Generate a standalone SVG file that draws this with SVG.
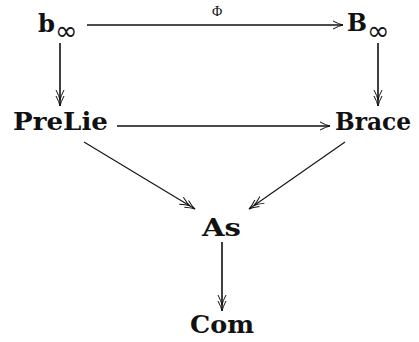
<svg xmlns="http://www.w3.org/2000/svg" width="419" height="342" viewBox="0 0 419 342">
<style>
.lbl{font-family:"DejaVu Serif","Liberation Serif",serif;font-weight:bold;font-size:24px;fill:#111}
.sub{font-family:"DejaVu Sans","Liberation Serif",serif;font-size:27px;fill:#111}
.phi{font-family:"Liberation Serif","DejaVu Serif",serif;font-size:14px;fill:#111}
.c{fill:none;stroke:#111;stroke-width:1.6}
.d{fill:none;stroke:#111;stroke-width:1.1}
.h{fill:none;stroke:#111;stroke-width:1}
</style>
<defs>
<marker id="one" markerUnits="userSpaceOnUse" markerWidth="20" markerHeight="14" refX="0" refY="0" viewBox="-12 -7 14 14" orient="auto" overflow="visible">
<path class="h" d="M-10,-4 Q-4,-0.8 0,0 M-10,4 Q-4,0.8 0,0"/>
</marker>
<marker id="two" markerUnits="userSpaceOnUse" markerWidth="24" markerHeight="14" refX="0" refY="0" viewBox="-18 -7 20 14" orient="auto" overflow="visible">
<path class="h" d="M-10,-4 Q-4,-0.8 0,0 M-10,4 Q-4,0.8 0,0 M-16,-4 Q-10,-0.8 -6,0 M-16,4 Q-10,0.8 -6,0"/>
</marker>
</defs>
<g id="connectors">
<line class="c" x1="87" y1="25" x2="343" y2="25" marker-end="url(#one)"/>
<text class="phi" x="217" y="16" text-anchor="middle">Φ</text>
<line class="c" x1="60" y1="43" x2="60" y2="106" marker-end="url(#two)"/>
<line class="c" x1="378" y1="43" x2="378" y2="106" marker-end="url(#two)"/>
<line class="c" x1="117" y1="126" x2="330" y2="126" marker-end="url(#one)"/>
<line class="d" x1="84" y1="142" x2="195" y2="209" marker-end="url(#two)"/>
<line class="d" x1="345" y1="142" x2="249" y2="209" marker-end="url(#two)"/>
<line class="c" x1="222" y1="242" x2="222" y2="311" marker-end="url(#two)"/>
</g>
<g id="b_inf">
<text class="lbl" x="38" y="32" textLength="17" lengthAdjust="spacingAndGlyphs">b</text>
<text class="sub" x="55" y="40">∞</text>
</g>
<g id="B_inf">
<text class="lbl" x="347" y="31" textLength="20" lengthAdjust="spacingAndGlyphs">B</text>
<text class="sub" x="367" y="40">∞</text>
</g>
<g id="PreLie">
<text class="lbl" x="13" y="130" textLength="95" lengthAdjust="spacingAndGlyphs">PreLie</text>
</g>
<g id="Brace">
<text class="lbl" x="335" y="130" textLength="76" lengthAdjust="spacingAndGlyphs">Brace</text>
</g>
<g id="As">
<text class="lbl" x="202" y="236" textLength="39" lengthAdjust="spacingAndGlyphs">As</text>
</g>
<g id="Com">
<text class="lbl" x="190" y="333" textLength="64" lengthAdjust="spacingAndGlyphs">Com</text>
</g>
</svg>
